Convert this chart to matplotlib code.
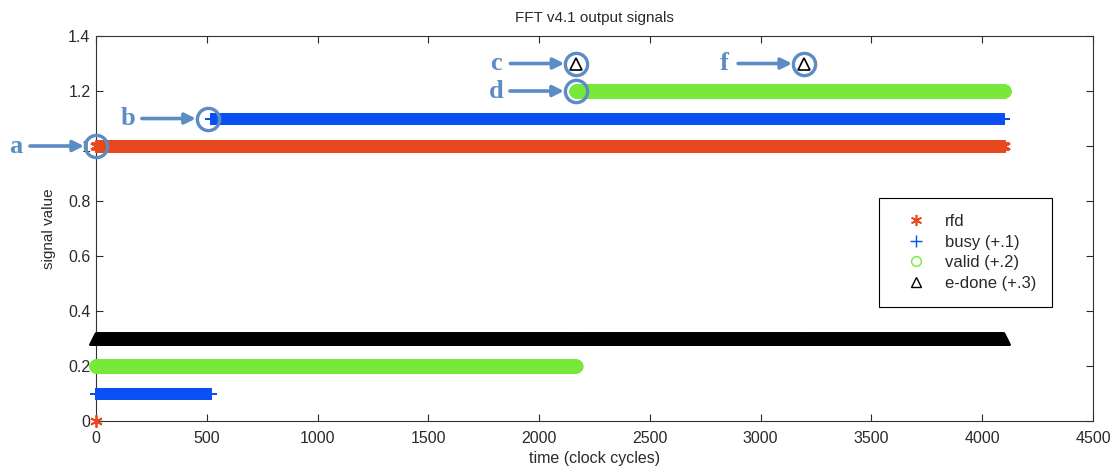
import numpy as np
import matplotlib
matplotlib.use("Agg")
import matplotlib.pyplot as plt
from matplotlib.lines import Line2D

# ---------------- data ----------------
n_cycles = 4100                 # number of clock cycles simulated
rfd_rise = 1                    # rfd goes high
busy_rise = 520                 # busy goes high
valid_rise = 2166               # valid goes high
edone_pulses = [2168, 3196]     # e-done single-cycle pulses

series_names = ["rfd", "busy (+.1)", "valid (+.2)", "e-done (+.3)"]
series_offsets = [0.0, 0.1, 0.2, 0.3]

ann_labels = ["a", "b", "c", "d", "f"]
ann_times = [0, 505, 2168, 2166, 3196]
ann_values = [1.0, 1.1, 1.3, 1.2, 1.3]

x_ticks = [0, 500, 1000, 1500, 2000, 2500, 3000, 3500, 4000, 4500]
y_ticks = [0, 0.2, 0.4, 0.6, 0.8, 1.0, 1.2, 1.4]
y_tick_labels = ["0", "0.2", "0.4", "0.6", "0.8", "1", "1.2", "1.4"]

t = np.arange(n_cycles)
rfd = (t >= rfd_rise).astype(float)
busy = (t >= busy_rise).astype(float)
valid = (t >= valid_rise).astype(float)
edone = np.isin(t, edone_pulses).astype(float)

# ---------------- style ----------------
plt.rcParams['font.family'] = ['Liberation Sans', 'DejaVu Sans']
RED = "#e8481e"
BLUE = "#0a4ff2"
GREEN = "#78e83a"
BLACK = "#000000"
ANN = "#5b8cc4"
TXT = "#2a2a2a"
ASTERISK = (6, 2, 0)

fig = plt.figure(figsize=(11.2, 4.72), dpi=100)
ax = fig.add_axes([0.0857, 0.108, 0.8902, 0.8157])

ax.plot(t, rfd + series_offsets[0], ls='none', marker=ASTERISK, color=RED,
        markersize=9, mew=1.3, clip_on=False, zorder=3)
ax.plot(t, busy + series_offsets[1], ls='none', marker='+', color=BLUE,
        markersize=9, mew=1.2, clip_on=False, zorder=3)
ax.plot(t, valid + series_offsets[2], ls='none', marker='o', color=GREEN,
        mfc='none', markersize=9, mew=1.2, clip_on=False, zorder=3)
ax.plot(t, edone + series_offsets[3], ls='none', marker='^', color=BLACK,
        mfc='none', markersize=9, mew=1.2, clip_on=False, zorder=3)

ax.set_xlim(0, 4500)
ax.set_ylim(0, 1.4)
ax.set_xticks(x_ticks)
ax.set_yticks(y_ticks)
ax.set_yticklabels(y_tick_labels)
ax.tick_params(direction='in', top=True, right=True, length=5, width=0.8,
               labelsize=11.5, colors=TXT)
ax.tick_params(axis='x', pad=7)
ax.tick_params(axis='y', pad=4)
for s in ax.spines.values():
    s.set_linewidth(0.8)
    s.set_color('#333333')

ax.set_title("FFT v4.1 output signals", fontsize=11, color=TXT, pad=10)
ax.set_xlabel("time (clock cycles)", fontsize=11.5, color=TXT, labelpad=4)
ax.set_ylabel("signal value", fontsize=11, color=TXT, labelpad=9)

# legend
handles = [
    Line2D([], [], ls='none', marker=ASTERISK, color=RED, markersize=8, mew=1.2),
    Line2D([], [], ls='none', marker='+', color=BLUE, markersize=9, mew=1.0),
    Line2D([], [], ls='none', marker='o', color=GREEN, mfc='none', markersize=7),
    Line2D([], [], ls='none', marker='^', color=BLACK, mfc='none', markersize=7),
]
leg = ax.legend(handles, series_names, loc='upper right',
                bbox_to_anchor=(0.959, 0.579), fontsize=12, frameon=True,
                fancybox=False, edgecolor='black', framealpha=1,
                handlelength=2.6, handletextpad=0.43, labelspacing=0.34,
                borderpad=0.95, borderaxespad=0, numpoints=1)
leg.get_frame().set_linewidth(0.8)
for txt in leg.get_texts():
    txt.set_color(TXT)

# annotations: circle + arrow + letter
px = 72.0 / 100.0  # pixels -> points
for lab, tx, vy in zip(ann_labels, ann_times, ann_values):
    ax.plot([tx], [vy], ls='none', marker='o', mfc='none', mec=ANN,
            markersize=16, mew=2.4, clip_on=False, zorder=5)
    ax.annotate("", xy=(tx, vy), xytext=(-66 * px, 0),
                textcoords='offset points',
                xycoords='data',
                arrowprops=dict(arrowstyle='-|>', color=ANN, lw=2.6,
                                mutation_scale=16, shrinkA=0,
                                shrinkB=12 * px),
                annotation_clip=False, zorder=5)
    ax.annotate(lab, xy=(tx, vy), xytext=(-80 * px, 0),
                textcoords='offset points', ha='center', va='center',
                fontsize=19, fontweight='bold', color=ANN,
                family=['Liberation Serif', 'DejaVu Serif'],
                annotation_clip=False, zorder=5)

fig.savefig("out.png", dpi=100)
